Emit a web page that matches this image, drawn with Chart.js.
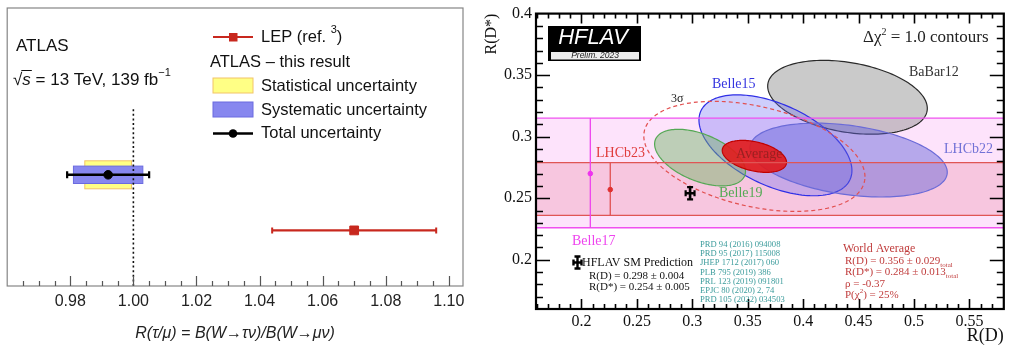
<!DOCTYPE html>
<html><head><meta charset="utf-8">
<script src="https://cdn.jsdelivr.net/npm/chart.js@4.4.1/dist/chart.umd.min.js"></script>
<style>
html,body{margin:0;padding:0;background:#fff;width:1010px;height:347px;overflow:hidden}
#c1{position:absolute;left:0;top:0}
#c2{position:absolute;left:480px;top:0}
</style></head><body>
<canvas id="c1" width="480" height="347"></canvas>
<canvas id="c2" width="530" height="347"></canvas>
<script>
// ---------------- Left panel data (ATLAS) ----------------
const atlasTicks = [0.98, 1.00, 1.02, 1.04, 1.06, 1.08, 1.10];
const atlasTickLabels = ['0.98', '1.00', '1.02', '1.04', '1.06', '1.08', '1.10'];
const resultNames = ['ATLAS – this result', 'LEP (ref. 3)'];
const resultValues = [0.992, 1.070];
const resultTotalErr = [0.013, 0.026];
const resultRows = [4, 2];
const atlasStatErr = 0.0074;
const atlasSystErr = 0.011;
const smRatio = 1.00;

// ---------------- Right panel data (HFLAV) ----------------
const rdTicks = [0.2, 0.25, 0.3, 0.35, 0.4, 0.45, 0.5, 0.55];
const rdTickLabels = ['0.2', '0.25', '0.3', '0.35', '0.4', '0.45', '0.5', '0.55'];
const rdsTicks = [0.2, 0.25, 0.3, 0.35, 0.4];
const rdsTickLabels = ['0.2', '0.25', '0.3', '0.35', '0.4'];
const ellNames = ['BaBar12', 'Belle15', 'LHCb22', 'Belle19', 'Average'];
const ellRD = [0.440, 0.375, 0.441, 0.307, 0.356];
const ellRDerr = [0.072, 0.069, 0.089, 0.041, 0.029];
const ellRDs = [0.332, 0.293, 0.281, 0.283, 0.284];
const ellRDserr = [0.030, 0.041, 0.030, 0.023, 0.013];
const ellRho = [-0.30, -0.50, -0.33, -0.48, -0.37];
const bandNames = ['Belle17', 'LHCb23'];
const bandRDs = [0.270, 0.257];
const bandErrUp = [0.045, 0.022];
const bandErrDn = [0.044, 0.021];
const bandRD = [0.208, 0.226];
const smRD = 0.298, smRDerr = 0.004, smRDs = 0.254, smRDserr = 0.005;
const threeSigmaScale = 3.44;
const refLines = ['PRD 94 (2016) 094008', 'PRD 95 (2017) 115008', 'JHEP 1712 (2017) 060', 'PLB 795 (2019) 386',
  'PRL 123 (2019) 091801', 'EPJC 80 (2020) 2, 74', 'PRD 105 (2022) 034503'];

const SANS = "'Liberation Sans', Arial, Helvetica, sans-serif";
const SERIF = "'Liberation Serif', 'Times New Roman', serif";

function txt(ctx, s, x, y, font, color, align, baseline) {
  ctx.font = font; ctx.fillStyle = color;
  ctx.textAlign = align || 'left'; ctx.textBaseline = baseline || 'middle';
  ctx.fillText(s, x, y);
  return ctx.measureText(s).width;
}

// ================= LEFT CHART =================
const leftMin = 0.96, leftMax = 1.1045;
const leftPlugin = {
  id: 'leftDeco',
  beforeDatasetsDraw(chart) {
    const {ctx, scales: {x, y}} = chart;
    const yc = y.getPixelForValue(resultRows[0]);
    ctx.save();
    let x0 = x.getPixelForValue(resultValues[0] - atlasStatErr), x1 = x.getPixelForValue(resultValues[0] + atlasStatErr);
    ctx.fillStyle = '#ffff85'; ctx.strokeStyle = '#f2c468'; ctx.lineWidth = 1;
    ctx.fillRect(x0, yc - 14, x1 - x0, 28); ctx.strokeRect(x0, yc - 14, x1 - x0, 28);
    x0 = x.getPixelForValue(resultValues[0] - atlasSystErr); x1 = x.getPixelForValue(resultValues[0] + atlasSystErr);
    ctx.fillStyle = '#8787ef'; ctx.strokeStyle = '#6b6be0';
    ctx.fillRect(x0, yc - 8.7, x1 - x0, 17.4); ctx.strokeRect(x0, yc - 8.7, x1 - x0, 17.4);
    ctx.restore();
  },
  afterDraw(chart) {
    const {ctx, chartArea: a, scales: {x}} = chart;
    ctx.save();
    ctx.strokeStyle = '#858585'; ctx.lineWidth = 1.2;
    ctx.strokeRect(a.left, a.top, a.right - a.left, a.bottom - a.top);
    ctx.strokeStyle = '#555'; ctx.lineWidth = 1.2; ctx.beginPath();
    for (let i = 193; i <= 220; i++) {
      const px = Math.round(x.getPixelForValue(i * 0.005)) + 0.5;
      const len = (i % 4 === 0) ? 10 : 5;
      ctx.moveTo(px, a.bottom); ctx.lineTo(px, a.bottom - len);
    }
    ctx.stroke();
    const F = '17px ' + SANS;
    txt(ctx, 'ATLAS', 16, 46, F, '#111');
    let cx = 13;
    cx += txt(ctx, '√', cx, 80, F, '#111');
    const sw = txt(ctx, 's', cx, 80, 'italic ' + F, '#111');
    ctx.strokeStyle = '#111'; ctx.lineWidth = 1; ctx.beginPath(); ctx.moveTo(cx - 1, 70.5); ctx.lineTo(cx + sw + 1, 70.5); ctx.stroke();
    cx += sw;
    cx += txt(ctx, ' = 13 TeV, 139 fb', cx, 80, F, '#111');
    txt(ctx, '−1', cx, 73, '11px ' + SANS, '#111');
    const LF = '16.5px ' + SANS;
    ctx.strokeStyle = '#c8281e'; ctx.lineWidth = 2.2; ctx.beginPath(); ctx.moveTo(213, 37); ctx.lineTo(253, 37); ctx.stroke();
    ctx.fillStyle = '#c8281e'; ctx.fillRect(229, 33, 8.5, 8.5);
    let lx = 261;
    lx += txt(ctx, 'LEP (ref. ', lx, 37, LF, '#111');
    lx += txt(ctx, '3', lx, 30, '11px ' + SANS, '#111');
    txt(ctx, ')', lx, 37, LF, '#111');
    txt(ctx, 'ATLAS – this result', 210, 62, LF, '#111');
    ctx.fillStyle = '#ffff85'; ctx.strokeStyle = '#f2c468'; ctx.lineWidth = 1;
    ctx.fillRect(213, 78, 40, 15); ctx.strokeRect(213, 78, 40, 15);
    txt(ctx, 'Statistical uncertainty', 261, 86, LF, '#111');
    ctx.fillStyle = '#8787ef'; ctx.strokeStyle = '#6b6be0';
    ctx.fillRect(213, 102, 40, 15); ctx.strokeRect(213, 102, 40, 15);
    txt(ctx, 'Systematic uncertainty', 261, 110, LF, '#111');
    ctx.strokeStyle = '#000'; ctx.lineWidth = 2.5; ctx.beginPath(); ctx.moveTo(213, 133.5); ctx.lineTo(253, 133.5); ctx.stroke();
    ctx.fillStyle = '#000'; ctx.beginPath(); ctx.arc(233, 133.5, 4.3, 0, 2 * Math.PI); ctx.fill();
    txt(ctx, 'Total uncertainty', 261, 133, LF, '#111');
    ctx.restore();
  }
};

new Chart(document.getElementById('c1'), {
  type: 'scatter',
  data: {
    datasets: [
      {data: [{x: resultValues[0], y: resultRows[0]}], pointRadius: 4.3, backgroundColor: '#000', borderColor: '#000'},
      {data: [{x: resultValues[1], y: resultRows[1]}], pointStyle: 'rect', pointRadius: 6.2, backgroundColor: '#c8281e', borderColor: '#c8281e'},
      {data: [{x: resultValues[0] - resultTotalErr[0], y: resultRows[0]}, {x: resultValues[0] + resultTotalErr[0], y: resultRows[0]}],
        showLine: true, borderColor: '#000', borderWidth: 2.6, pointStyle: 'line', pointRotation: 90, pointRadius: 3.5, pointBorderWidth: 2.2, pointBorderColor: '#000'},
      {data: [{x: resultValues[1] - resultTotalErr[1], y: resultRows[1]}, {x: resultValues[1] + resultTotalErr[1], y: resultRows[1]}],
        showLine: true, borderColor: '#c8281e', borderWidth: 2.2, pointStyle: 'line', pointRotation: 90, pointRadius: 3, pointBorderWidth: 2, pointBorderColor: '#c8281e'},
      {data: [{x: smRatio, y: 0}, {x: smRatio, y: 6.4}], showLine: true, borderColor: '#111', borderWidth: 1.6, borderDash: [2, 2.6], pointRadius: 0}
    ]
  },
  options: {
    responsive: false, animation: false, devicePixelRatio: 1,
    layout: {padding: {left: 7, top: 8, right: 17, bottom: 0}},
    plugins: {legend: {display: false}, tooltip: {enabled: false}},
    scales: {
      x: {
        type: 'linear', min: leftMin, max: leftMax,
        afterBuildTicks: s => { s.ticks = atlasTicks.map(v => ({value: v})); },
        afterFit: s => { s.height = 61; },
        grid: {display: false, drawTicks: false}, border: {display: false},
        ticks: {autoSkip: false, maxRotation: 0, padding: 6, font: {family: SANS, size: 16}, color: '#222',
          callback: (v, i) => atlasTickLabels[i]},
        title: {display: true, text: 'R(τ/μ) = B(W→τν)/B(W→μν)', font: {family: SANS, size: 16, style: 'italic'}, color: '#222', padding: {top: 0, bottom: 4}}
      },
      y: {type: 'linear', min: 0, max: 10, display: false}
    }
  },
  plugins: [leftPlugin]
});

// ================= RIGHT CHART =================
const rdMin = 0.159, rdMax = 0.581, rdsMin = 0.16, rdsMax = 0.40;
const ellStyle = [
  {fill: 'rgba(150,150,150,0.5)', stroke: '#2a2a2a'},
  {fill: 'rgba(105,105,245,0.33)', stroke: '#2f2fe6'},
  {fill: 'rgba(95,95,215,0.45)', stroke: '#6b6bd8'},
  {fill: 'rgba(110,180,100,0.45)', stroke: '#55a855'},
  {fill: 'rgba(225,25,25,0.9)', stroke: '#c00000'}
];
function ellipsePath(ctx, xs, ys, cx, cy, sx, sy, rho, k) {
  const n = 160, s = Math.sqrt(1 - rho * rho);
  ctx.beginPath();
  for (let i = 0; i <= n; i++) {
    const t = 2 * Math.PI * i / n;
    const px = xs.getPixelForValue(cx + k * sx * Math.cos(t));
    const py = ys.getPixelForValue(cy + k * sy * (rho * Math.cos(t) + s * Math.sin(t)));
    if (i) ctx.lineTo(px, py); else ctx.moveTo(px, py);
  }
  ctx.closePath();
}
const rightPlugin = {
  id: 'rightDeco',
  beforeDatasetsDraw(chart) {
    const {ctx, chartArea: a, scales: {x, y}} = chart;
    ctx.save();
    ctx.beginPath(); ctx.rect(a.left, a.top, a.right - a.left, a.bottom - a.top); ctx.clip();
    ctx.lineWidth = 1.2;
    for (let i = 0; i < ellNames.length; i++) {
      if (i === 4) {
        ellipsePath(ctx, x, y, ellRD[4], ellRDs[4], ellRDerr[4], ellRDserr[4], ellRho[4], threeSigmaScale);
        ctx.setLineDash([4, 3]); ctx.strokeStyle = '#e25050'; ctx.stroke(); ctx.setLineDash([]);
      }
      ellipsePath(ctx, x, y, ellRD[i], ellRDs[i], ellRDerr[i], ellRDserr[i], ellRho[i], 1);
      ctx.fillStyle = ellStyle[i].fill; ctx.fill();
      ctx.strokeStyle = ellStyle[i].stroke; ctx.stroke();
    }
    ctx.restore();
  },
  afterDraw(chart) {
    const {ctx, chartArea: a, scales: {x, y}} = chart;
    ctx.save();
    ctx.strokeStyle = '#000'; ctx.lineWidth = 1.6; ctx.beginPath();
    for (let i = 16; i <= 58; i++) {
      const px = Math.round(x.getPixelForValue(i / 100)) + 0.5;
      if (px <= a.left + 1 || px >= a.right - 1) continue;
      const len = (i % 5 === 0) ? 10 : 5;
      ctx.moveTo(px, a.bottom); ctx.lineTo(px, a.bottom - len);
      ctx.moveTo(px, a.top); ctx.lineTo(px, a.top + len);
    }
    for (let i = 16; i <= 40; i++) {
      const py = Math.round(y.getPixelForValue(i / 100)) + 0.5;
      if (py <= a.top + 1 || py >= a.bottom - 1) continue;
      const len = (i % 5 === 0) ? 14 : 7;
      ctx.moveTo(a.left, py); ctx.lineTo(a.left + len, py);
      ctx.moveTo(a.right, py); ctx.lineTo(a.right - len, py);
    }
    ctx.stroke();
    ctx.lineWidth = 2.2; ctx.strokeRect(a.left, a.top, a.right - a.left, a.bottom - a.top);
    ctx.fillStyle = '#000'; ctx.fillRect(68, 26, 93, 35);
    ctx.fillStyle = '#ececec'; ctx.fillRect(70, 51, 90, 9);
    ctx.strokeStyle = '#000'; ctx.lineWidth = 1; ctx.strokeRect(70.5, 51.5, 89, 8.5);
    txt(ctx, 'HFLAV', 113, 38, 'italic 22px ' + SANS, '#fff', 'center');
    txt(ctx, 'Prelim. 2023', 115, 56, 'italic 8.5px ' + SANS, '#222', 'center');
    let cx = 383;
    cx += txt(ctx, 'Δχ', cx, 38, '17px ' + SERIF, '#222');
    cx += txt(ctx, '2', cx, 32, '10px ' + SERIF, '#222');
    txt(ctx, ' = 1.0 contours', cx, 38, '17px ' + SERIF, '#222');
    txt(ctx, 'BaBar12', 429, 72, '14px ' + SERIF, '#333');
    txt(ctx, 'Belle15', 232, 84, '14px ' + SERIF, '#3434e0');
    txt(ctx, '3σ', 191, 99, '12px ' + SERIF, '#222');
    txt(ctx, 'LHCb23', 116, 153, '14px ' + SERIF, '#e03c3c');
    txt(ctx, 'Average', 256, 154, '14px ' + SERIF, '#9a2020');
    txt(ctx, 'LHCb22', 464, 149, '14px ' + SERIF, '#7272d6');
    txt(ctx, 'Belle19', 239, 193, '14px ' + SERIF, '#55aa55');
    txt(ctx, 'Belle17', 92, 241, '14px ' + SERIF, '#ee44ee');
    ctx.strokeStyle = '#000'; ctx.lineWidth = 2.4; ctx.beginPath();
    ctx.moveTo(93.5, 262.5); ctx.lineTo(101.5, 262.5);
    ctx.moveTo(97.5, 256.5); ctx.lineTo(97.5, 268.5);
    ctx.moveTo(93.5, 259.5); ctx.lineTo(93.5, 265.5);
    ctx.moveTo(101.5, 259.5); ctx.lineTo(101.5, 265.5);
    ctx.moveTo(94.5, 256.5); ctx.lineTo(100.5, 256.5);
    ctx.moveTo(94.5, 268.5); ctx.lineTo(100.5, 268.5);
    ctx.stroke();
    txt(ctx, 'HFLAV SM Prediction', 102, 263, '12px ' + SERIF, '#111');
    txt(ctx, 'R(D) = ' + smRD.toFixed(3) + ' ± ' + smRDerr.toFixed(3), 109, 276, '11px ' + SERIF, '#111');
    txt(ctx, 'R(D*) = ' + smRDs.toFixed(3) + ' ± ' + smRDserr.toFixed(3), 109, 287, '11px ' + SERIF, '#111');
    refLines.forEach((r, i) => txt(ctx, r, 220, 244.5 + i * 9.25, '8.6px ' + SERIF, '#3c9c9c'));
    const WC = '#c03c3c';
    txt(ctx, 'World Average', 363, 249, '12px ' + SERIF, WC);
    let wx = 365;
    wx += txt(ctx, 'R(D) = ' + ellRD[4].toFixed(3) + ' ± ' + ellRDerr[4].toFixed(3), wx, 261, '11px ' + SERIF, WC);
    txt(ctx, 'total', wx, 265, '7px ' + SERIF, WC);
    wx = 365;
    wx += txt(ctx, 'R(D*) = ' + ellRDs[4].toFixed(3) + ' ± ' + ellRDserr[4].toFixed(3), wx, 272, '11px ' + SERIF, WC);
    txt(ctx, 'total', wx, 276, '7px ' + SERIF, WC);
    txt(ctx, 'ρ = ' + ellRho[4].toFixed(2), 365, 284, '11px ' + SERIF, WC);
    wx = 365;
    wx += txt(ctx, 'P(χ', wx, 295, '11px ' + SERIF, WC);
    wx += txt(ctx, '2', wx, 291, '7px ' + SERIF, WC);
    txt(ctx, ') = 25%', wx, 295, '11px ' + SERIF, WC);
    ctx.restore();
  }
};

const bandDatasets = [];
const bandLine = ['#f050f0', '#e05555'];
const bandFill = ['#fde3fb', 'rgba(230,110,140,0.25)'];
for (let b = 0; b < bandNames.length; b++) {
  bandDatasets.push({data: [{x: rdMin, y: bandRDs[b] + bandErrUp[b]}, {x: rdMax, y: bandRDs[b] + bandErrUp[b]}],
    showLine: true, borderColor: bandLine[b], borderWidth: 1.3, pointRadius: 0, backgroundColor: bandFill[b], fill: '+1'});
  bandDatasets.push({data: [{x: rdMin, y: bandRDs[b] - bandErrDn[b]}, {x: rdMax, y: bandRDs[b] - bandErrDn[b]}],
    showLine: true, borderColor: bandLine[b], borderWidth: 1.3, pointRadius: 0, fill: false});
}
const markerDatasets = [
  {data: [{x: smRD - smRDerr, y: smRDs}, {x: smRD + smRDerr, y: smRDs}], showLine: true, borderColor: '#000', borderWidth: 2.6,
    pointStyle: 'line', pointRotation: 90, pointRadius: 3, pointBorderWidth: 2.2, pointBorderColor: '#000'},
  {data: [{x: smRD, y: smRDs - smRDserr}, {x: smRD, y: smRDs + smRDserr}], showLine: true, borderColor: '#000', borderWidth: 2.6,
    pointStyle: 'line', pointRotation: 0, pointRadius: 3, pointBorderWidth: 2.2, pointBorderColor: '#000'},
  {data: [{x: bandRD[0], y: bandRDs[0]}], pointRadius: 2.3, backgroundColor: '#ee33ee', borderColor: '#ee33ee'},
  {data: [{x: bandRD[1], y: bandRDs[1]}], pointRadius: 2.3, backgroundColor: '#e03030', borderColor: '#e03030'},
  {data: [{x: bandRD[0], y: bandRDs[0] - bandErrDn[0]}, {x: bandRD[0], y: bandRDs[0] + bandErrUp[0]}], showLine: true, borderColor: '#ee44ee', borderWidth: 1.3, pointRadius: 0},
  {data: [{x: bandRD[1], y: bandRDs[1] - bandErrDn[1]}, {x: bandRD[1], y: bandRDs[1] + bandErrUp[1]}], showLine: true, borderColor: '#e05050', borderWidth: 1.3, pointRadius: 0}
];

new Chart(document.getElementById('c2'), {
  type: 'scatter',
  data: {datasets: markerDatasets.concat(bandDatasets.slice(2), bandDatasets.slice(0, 2))},
  options: {
    responsive: false, animation: false, devicePixelRatio: 1,
    layout: {padding: {left: 0, top: 13, right: 1, bottom: 0}},
    plugins: {legend: {display: false}, tooltip: {enabled: false}, filler: {drawTime: 'beforeDraw'}},
    scales: {
      x: {
        type: 'linear', min: rdMin, max: rdMax,
        afterBuildTicks: s => { s.ticks = rdTicks.map(v => ({value: v})); },
        afterFit: s => { s.height = 38; },
        grid: {display: false, drawTicks: false}, border: {display: false},
        ticks: {autoSkip: false, maxRotation: 0, padding: 3, font: {family: SERIF, size: 16}, color: '#111',
          callback: (v, i) => rdTickLabels[i]},
        title: {display: true, text: 'R(D)', align: 'end', font: {family: SERIF, size: 18}, color: '#111', padding: {top: 0, bottom: 0}}
      },
      y: {
        type: 'linear', min: rdsMin, max: rdsMax,
        afterBuildTicks: s => { s.ticks = rdsTicks.map(v => ({value: v})); },
        afterFit: s => { s.width = 56; },
        grid: {display: false, drawTicks: false}, border: {display: false},
        ticks: {autoSkip: false, padding: 4, font: {family: SERIF, size: 16}, color: '#111',
          callback: (v, i) => rdsTickLabels[i]},
        title: {display: true, text: 'R(D*)', align: 'end', font: {family: SERIF, size: 16}, color: '#111', padding: {top: 2, bottom: 0}}
      }
    }
  },
  plugins: [rightPlugin]
});
</script>
</body></html>
